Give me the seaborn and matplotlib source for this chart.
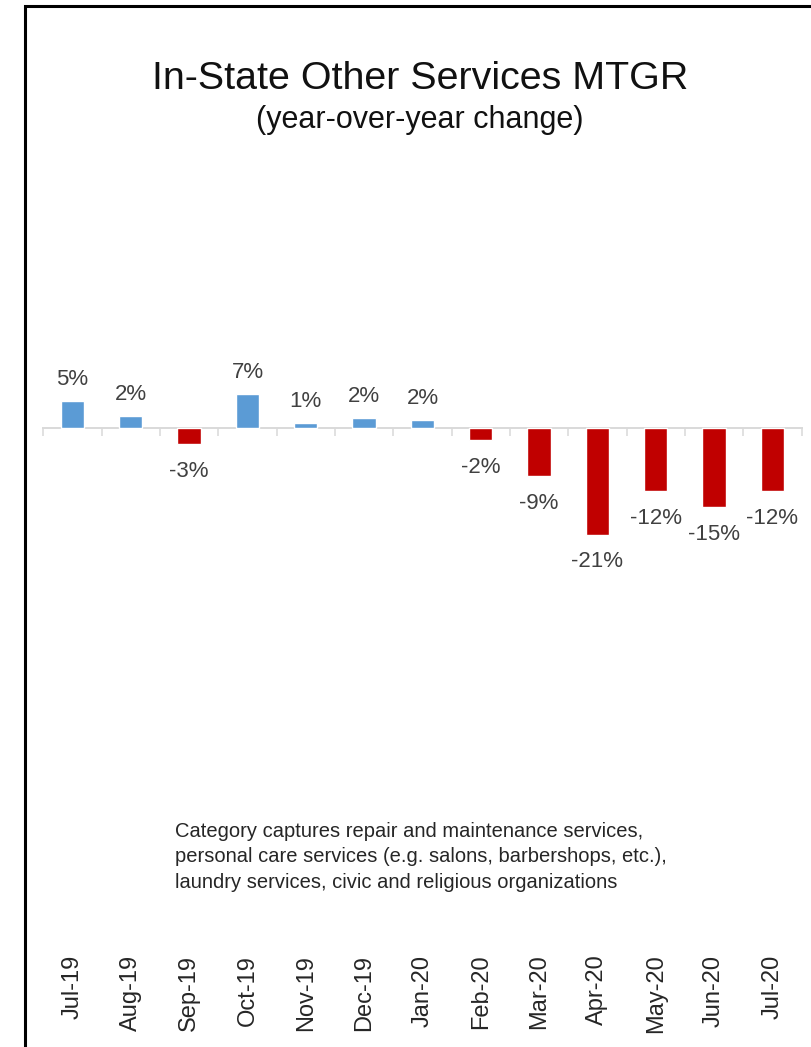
import matplotlib
matplotlib.use("Agg")
import matplotlib.pyplot as plt
from matplotlib.patches import Rectangle
import seaborn as sns
import pandas as pd

months = ["Jul-19", "Aug-19", "Sep-19", "Oct-19", "Nov-19", "Dec-19", "Jan-20",
          "Feb-20", "Mar-20", "Apr-20", "May-20", "Jun-20", "Jul-20"]
yoy_change = [5.2, 2.3, -3.1, 6.7, 1.0, 2.0, 1.6, -2.3, -9.3, -20.6, -12.2, -15.2, -12.1]
title = "In-State Other Services MTGR"
subtitle = "(year-over-year change)"
note = ("Category captures repair and maintenance services,\n"
        "personal care services (e.g. salons, barbershops, etc.),\n"
        "laundry services, civic and religious organizations")

sns.set_theme(style="white")
plt.rcParams["font.family"] = ["Liberation Sans", "DejaVu Sans"]

df = pd.DataFrame({"month": months, "value": yoy_change})
df["sign"] = ["pos" if v >= 0 else "neg" for v in df["value"]]

fig = plt.figure(figsize=(8.12, 10.47), dpi=100)
ax = fig.add_axes([43.3 / 812, 1 - 945 / 1047, (801.6 - 43.3) / 812, (945 - 170) / 1047])

sns.barplot(data=df, x="month", y="value", hue="sign", hue_order=["pos", "neg"],
            palette={"pos": "#5B9BD5", "neg": "#C00000"}, dodge=False, width=0.4,
            legend=False, ax=ax, saturation=1, zorder=2)

ax.set_ylim(-100, 50)
ax.set_xlim(-0.5, len(months) - 0.5)
ax.set_xlabel("")
ax.set_ylabel("")
ax.set_yticks([])
for s in ax.spines.values():
    s.set_visible(False)
ax.tick_params(axis="x", length=0, pad=7, labelsize=17, labelcolor="#262626")
plt.setp(ax.get_xticklabels(), rotation=90)

# zero axis line with category boundary ticks
sec = ax.secondary_xaxis(0, transform=ax.transData)
sec.set_xticks([i - 0.5 for i in range(len(months) + 1)])
sec.set_xticklabels([])
sec.tick_params(axis="x", length=6, width=1.1, color="#d9d9d9", direction="out")
sec.spines["bottom"].set_color("#d9d9d9")
sec.spines["bottom"].set_linewidth(1.4)
for k in ("top", "left", "right"):
    sec.spines[k].set_visible(False)

for i, v in enumerate(yoy_change):
    if v >= 0:
        ax.annotate(f"{round(v):.0f}%", (i, v), xytext=(0, 8), textcoords="offset points",
                    ha="center", va="bottom", fontsize=16, color="#404040")
    else:
        ax.annotate(f"{round(v):.0f}%", (i, v), xytext=(0, -12), textcoords="offset points",
                    ha="center", va="top", fontsize=16, color="#404040")

fig.text(0.517, 1 - 89 / 1047, title, ha="center", va="baseline", fontsize=28.4, color="#111111")
fig.text(0.517, 1 - 128 / 1047, subtitle, ha="center", va="baseline", fontsize=22, color="#111111")
fig.text(175 / 812, 1 - 822 / 1047, note, ha="left", va="top", fontsize=14.5,
         color="#262626", linespacing=1.42)

fig.add_artist(Rectangle((25 / 812, -0.1), 1.2, 1.1 - 6 / 1047, transform=fig.transFigure,
                         fill=False, edgecolor="black", linewidth=2.2))

fig.savefig("out.png", dpi=100, facecolor="white")
